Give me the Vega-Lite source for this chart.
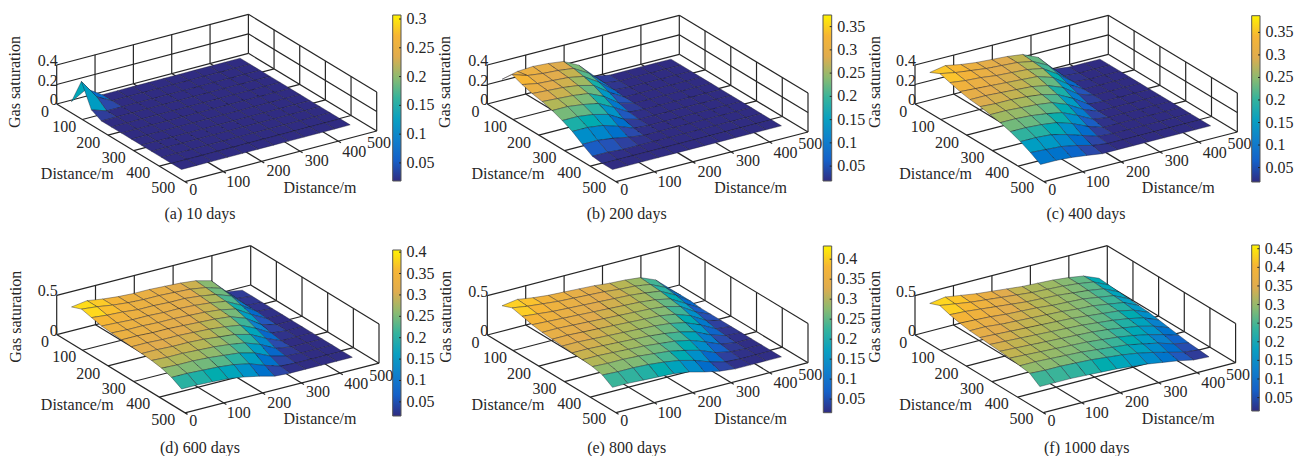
{"$schema":"https://vega.github.io/schema/vega-lite/v6.json","width":1300,"height":456,"padding":0,"autosize":{"type":"fit","contains":"padding"},"background":"white","config":{"view":{"stroke":null},"text":{"font":"Liberation Serif","fontSize":16,"color":"#262626"}},
"params":[{"name":"P","value":[
{"ox":56.7,"oy":104,"xx":0.3834,"xy":-0.1014,"yx":0.2566,"yy":0.1554,"h":39,"zm":0.4,"cmin":0.0186,"cmax":0.307,"b1":392.7,"b2":401,"t1":15,"t2":181,"tx":15,"ty":82,"cx":200,"cy":214.3},
{"ox":487.3,"oy":104,"xx":0.3840,"xy":-0.0994,"yx":0.2574,"yy":0.1554,"h":39,"zm":0.4,"cmin":0.018,"cmax":0.375,"b1":823,"b2":831.7,"t1":15,"t2":181,"tx":445,"ty":82,"cx":626.7,"cy":214.3},
{"ox":915,"oy":104,"xx":0.3866,"xy":-0.0994,"yx":0.2580,"yy":0.1554,"h":39,"zm":0.4,"cmin":0.018,"cmax":0.387,"b1":1251.7,"b2":1260,"t1":15.7,"t2":182,"tx":875,"ty":82,"cx":1086,"cy":214.3},
{"ox":56.7,"oy":334.6,"xx":0.3880,"xy":-0.0992,"yx":0.2566,"yy":0.1564,"h":39.3,"zm":0.5,"cmin":0.017,"cmax":0.405,"b1":392.7,"b2":401,"t1":250,"t2":416,"tx":15.7,"ty":316.7,"cx":200,"cy":448.3},
{"ox":487.3,"oy":335,"xx":0.3840,"xy":-0.1000,"yx":0.2574,"yy":0.1554,"h":39.3,"zm":0.5,"cmin":0.016,"cmax":0.433,"b1":823.3,"b2":831.7,"t1":246,"t2":412.7,"tx":445.7,"ty":316.7,"cx":626.7,"cy":448.3},
{"ox":915,"oy":335,"xx":0.3846,"xy":-0.1000,"yx":0.2566,"yy":0.1554,"h":39.3,"zm":0.5,"cmin":0.014,"cmax":0.46,"b1":1251.7,"b2":1259.3,"t1":245,"t2":411,"tx":875,"ty":316.7,"cx":1086.7,"cy":448.3}]}],
"datasets":{
"axes":[{"a":0,"b":0,"c":0,"d":500,"e":0,"f":0},{"a":500,"b":0,"c":0,"d":500,"e":500,"f":0},{"a":0,"b":0,"c":0,"d":0,"e":510,"f":0},{"a":0,"b":500,"c":0,"d":500,"e":500,"f":0},
{"a":100,"b":0,"c":0,"d":100,"e":510,"f":0},{"a":200,"b":0,"c":0,"d":200,"e":510,"f":0},{"a":300,"b":0,"c":0,"d":300,"e":510,"f":0},{"a":400,"b":0,"c":0,"d":400,"e":510,"f":0},
{"a":0,"b":100,"c":0,"d":500,"e":100,"f":0},{"a":0,"b":200,"c":0,"d":500,"e":200,"f":0},{"a":0,"b":300,"c":0,"d":500,"e":300,"f":0},{"a":0,"b":400,"c":0,"d":500,"e":400,"f":0},
{"a":0,"b":0,"c":0,"d":0,"e":0,"f":1},{"a":100,"b":0,"c":0,"d":100,"e":0,"f":1},{"a":200,"b":0,"c":0,"d":200,"e":0,"f":1},{"a":300,"b":0,"c":0,"d":300,"e":0,"f":1},{"a":400,"b":0,"c":0,"d":400,"e":0,"f":1},{"a":500,"b":0,"c":0,"d":500,"e":0,"f":1},
{"a":500,"b":100,"c":0,"d":500,"e":100,"f":1},{"a":500,"b":200,"c":0,"d":500,"e":200,"f":1},{"a":500,"b":300,"c":0,"d":500,"e":300,"f":1},{"a":500,"b":400,"c":0,"d":500,"e":400,"f":1},{"a":500,"b":500,"c":0,"d":500,"e":500,"f":1},
{"a":0,"b":0,"c":1,"d":500,"e":0,"f":1},{"a":500,"b":0,"c":1,"d":500,"e":500,"f":1},
{"a":0,"b":0,"c":0.5,"d":500,"e":0,"f":0.5,"m":1},{"a":500,"b":0,"c":0.5,"d":500,"e":500,"f":0.5,"m":1}],
"ticks":[{"a":"x","v":0},{"a":"x","v":100},{"a":"x","v":200},{"a":"x","v":300},{"a":"x","v":400},{"a":"x","v":500},{"a":"y","v":0},{"a":"y","v":100},{"a":"y","v":200},{"a":"y","v":300},{"a":"y","v":400},{"a":"y","v":500}],
"zt":[{"p":0,"t":"0.4","f":1},{"p":0,"t":"0.2","f":0.5},{"p":0,"t":"0","f":0},{"p":1,"t":"0.4","f":1},{"p":1,"t":"0.2","f":0.5},{"p":1,"t":"0","f":0},{"p":2,"t":"0.4","f":1},{"p":2,"t":"0.2","f":0.5},{"p":2,"t":"0","f":0},{"p":3,"t":"0.5","f":1},{"p":3,"t":"0","f":0},{"p":4,"t":"0.5","f":1},{"p":4,"t":"0","f":0},{"p":5,"t":"0.5","f":1},{"p":5,"t":"0","f":0}],
"bars":[{"p":0},{"p":1},{"p":2},{"p":3},{"p":4},{"p":5}],
"caps":[{"p":0,"t":"(a) 10 days"},{"p":1,"t":"(b) 200 days"},{"p":2,"t":"(c) 400 days"},{"p":3,"t":"(d) 600 days"},{"p":4,"t":"(e) 800 days"},{"p":5,"t":"(f) 1000 days"}],
"cb":[{"p":0,"v":0.05,"t":"0.05"},{"p":0,"v":0.1,"t":"0.1"},{"p":0,"v":0.15,"t":"0.15"},{"p":0,"v":0.2,"t":"0.2"},{"p":0,"v":0.25,"t":"0.25"},{"p":0,"v":0.3,"t":"0.3"},
{"p":1,"v":0.05,"t":"0.05"},{"p":1,"v":0.1,"t":"0.1"},{"p":1,"v":0.15,"t":"0.15"},{"p":1,"v":0.2,"t":"0.2"},{"p":1,"v":0.25,"t":"0.25"},{"p":1,"v":0.3,"t":"0.3"},{"p":1,"v":0.35,"t":"0.35"},
{"p":2,"v":0.05,"t":"0.05"},{"p":2,"v":0.1,"t":"0.1"},{"p":2,"v":0.15,"t":"0.15"},{"p":2,"v":0.2,"t":"0.2"},{"p":2,"v":0.25,"t":"0.25"},{"p":2,"v":0.3,"t":"0.3"},{"p":2,"v":0.35,"t":"0.35"},
{"p":3,"v":0.05,"t":"0.05"},{"p":3,"v":0.1,"t":"0.1"},{"p":3,"v":0.15,"t":"0.15"},{"p":3,"v":0.2,"t":"0.2"},{"p":3,"v":0.25,"t":"0.25"},{"p":3,"v":0.3,"t":"0.3"},{"p":3,"v":0.35,"t":"0.35"},{"p":3,"v":0.4,"t":"0.4"},
{"p":4,"v":0.05,"t":"0.05"},{"p":4,"v":0.1,"t":"0.1"},{"p":4,"v":0.15,"t":"0.15"},{"p":4,"v":0.2,"t":"0.2"},{"p":4,"v":0.25,"t":"0.25"},{"p":4,"v":0.3,"t":"0.3"},{"p":4,"v":0.35,"t":"0.35"},{"p":4,"v":0.4,"t":"0.4"},
{"p":5,"v":0.05,"t":"0.05"},{"p":5,"v":0.1,"t":"0.1"},{"p":5,"v":0.15,"t":"0.15"},{"p":5,"v":0.2,"t":"0.2"},{"p":5,"v":0.25,"t":"0.25"},{"p":5,"v":0.3,"t":"0.3"},{"p":5,"v":0.35,"t":"0.35"},{"p":5,"v":0.4,"t":"0.4"},{"p":5,"v":0.45,"t":"0.45"}],
"mesh":[
{"p":0,"x":25,"y":20,"z":0.03},{"p":0,"x":65,"y":20,"z":0.12},{"p":0,"x":25,"y":59,"z":0.3},{"p":0,"x":65,"y":59,"z":0.1},{"p":0,"x":25,"y":98,"z":0.07},
{"p":1,"x":25,"y":20,"z":0.26},{"p":1,"x":65,"y":20,"z":0.3},{"p":1,"x":105,"y":20,"z":0.31},{"p":1,"x":145,"y":20,"z":0.3},{"p":1,"x":185,"y":20,"z":0.28},{"p":1,"x":225,"y":20,"z":0.2},{"p":1,"x":265,"y":20,"z":0.05},
{"p":1,"x":25,"y":59,"z":0.37},{"p":1,"x":65,"y":59,"z":0.32},{"p":1,"x":105,"y":59,"z":0.3},{"p":1,"x":145,"y":59,"z":0.29},{"p":1,"x":185,"y":59,"z":0.27},{"p":1,"x":225,"y":59,"z":0.18},{"p":1,"x":265,"y":59,"z":0.04},
{"p":1,"x":25,"y":98,"z":0.33},{"p":1,"x":65,"y":98,"z":0.3},{"p":1,"x":105,"y":98,"z":0.29},{"p":1,"x":145,"y":98,"z":0.28},{"p":1,"x":185,"y":98,"z":0.25},{"p":1,"x":225,"y":98,"z":0.15},{"p":1,"x":265,"y":98,"z":0.03},
{"p":1,"x":25,"y":137,"z":0.3},{"p":1,"x":65,"y":137,"z":0.29},{"p":1,"x":105,"y":137,"z":0.28},{"p":1,"x":145,"y":137,"z":0.26},{"p":1,"x":185,"y":137,"z":0.22},{"p":1,"x":225,"y":137,"z":0.11},
{"p":1,"x":25,"y":176,"z":0.28},{"p":1,"x":65,"y":176,"z":0.27},{"p":1,"x":105,"y":176,"z":0.26},{"p":1,"x":145,"y":176,"z":0.24},{"p":1,"x":185,"y":176,"z":0.17},{"p":1,"x":225,"y":176,"z":0.06},
{"p":1,"x":25,"y":215,"z":0.25},{"p":1,"x":65,"y":215,"z":0.25},{"p":1,"x":105,"y":215,"z":0.23},{"p":1,"x":145,"y":215,"z":0.2},{"p":1,"x":185,"y":215,"z":0.12},{"p":1,"x":225,"y":215,"z":0.03},
{"p":1,"x":25,"y":254,"z":0.21},{"p":1,"x":65,"y":254,"z":0.21},{"p":1,"x":105,"y":254,"z":0.19},{"p":1,"x":145,"y":254,"z":0.15},{"p":1,"x":185,"y":254,"z":0.06},
{"p":1,"x":25,"y":293,"z":0.16},{"p":1,"x":65,"y":293,"z":0.16},{"p":1,"x":105,"y":293,"z":0.14},{"p":1,"x":145,"y":293,"z":0.09},{"p":1,"x":185,"y":293,"z":0.03},
{"p":1,"x":25,"y":332,"z":0.09},{"p":1,"x":65,"y":332,"z":0.09},{"p":1,"x":105,"y":332,"z":0.07},{"p":1,"x":145,"y":332,"z":0.04},
{"p":1,"x":25,"y":371,"z":0.03},{"p":1,"x":65,"y":371,"z":0.03},
{"p":2,"x":25,"y":20,"z":0.33},{"p":2,"x":65,"y":20,"z":0.36},{"p":2,"x":105,"y":20,"z":0.33},{"p":2,"x":145,"y":20,"z":0.31},{"p":2,"x":185,"y":20,"z":0.3},{"p":2,"x":225,"y":20,"z":0.29},{"p":2,"x":265,"y":20,"z":0.27},{"p":2,"x":305,"y":20,"z":0.2},{"p":2,"x":345,"y":20,"z":0.04},
{"p":2,"x":25,"y":59,"z":0.38},{"p":2,"x":65,"y":59,"z":0.35},{"p":2,"x":105,"y":59,"z":0.33},{"p":2,"x":145,"y":59,"z":0.31},{"p":2,"x":185,"y":59,"z":0.3},{"p":2,"x":225,"y":59,"z":0.29},{"p":2,"x":265,"y":59,"z":0.26},{"p":2,"x":305,"y":59,"z":0.18},{"p":2,"x":345,"y":59,"z":0.03},
{"p":2,"x":25,"y":98,"z":0.35},{"p":2,"x":65,"y":98,"z":0.33},{"p":2,"x":105,"y":98,"z":0.32},{"p":2,"x":145,"y":98,"z":0.3},{"p":2,"x":185,"y":98,"z":0.29},{"p":2,"x":225,"y":98,"z":0.28},{"p":2,"x":265,"y":98,"z":0.25},{"p":2,"x":305,"y":98,"z":0.15},{"p":2,"x":345,"y":98,"z":0.03},
{"p":2,"x":25,"y":137,"z":0.32},{"p":2,"x":65,"y":137,"z":0.31},{"p":2,"x":105,"y":137,"z":0.3},{"p":2,"x":145,"y":137,"z":0.29},{"p":2,"x":185,"y":137,"z":0.28},{"p":2,"x":225,"y":137,"z":0.27},{"p":2,"x":265,"y":137,"z":0.22},{"p":2,"x":305,"y":137,"z":0.11},
{"p":2,"x":25,"y":176,"z":0.3},{"p":2,"x":65,"y":176,"z":0.3},{"p":2,"x":105,"y":176,"z":0.29},{"p":2,"x":145,"y":176,"z":0.28},{"p":2,"x":185,"y":176,"z":0.27},{"p":2,"x":225,"y":176,"z":0.24},{"p":2,"x":265,"y":176,"z":0.18},{"p":2,"x":305,"y":176,"z":0.07},
{"p":2,"x":25,"y":215,"z":0.29},{"p":2,"x":65,"y":215,"z":0.28},{"p":2,"x":105,"y":215,"z":0.28},{"p":2,"x":145,"y":215,"z":0.27},{"p":2,"x":185,"y":215,"z":0.25},{"p":2,"x":225,"y":215,"z":0.21},{"p":2,"x":265,"y":215,"z":0.13},{"p":2,"x":305,"y":215,"z":0.03},
{"p":2,"x":25,"y":254,"z":0.27},{"p":2,"x":65,"y":254,"z":0.27},{"p":2,"x":105,"y":254,"z":0.26},{"p":2,"x":145,"y":254,"z":0.25},{"p":2,"x":185,"y":254,"z":0.23},{"p":2,"x":225,"y":254,"z":0.17},{"p":2,"x":265,"y":254,"z":0.08},
{"p":2,"x":25,"y":293,"z":0.25},{"p":2,"x":65,"y":293,"z":0.25},{"p":2,"x":105,"y":293,"z":0.24},{"p":2,"x":145,"y":293,"z":0.22},{"p":2,"x":185,"y":293,"z":0.19},{"p":2,"x":225,"y":293,"z":0.12},{"p":2,"x":265,"y":293,"z":0.04},
{"p":2,"x":25,"y":332,"z":0.22},{"p":2,"x":65,"y":332,"z":0.22},{"p":2,"x":105,"y":332,"z":0.21},{"p":2,"x":145,"y":332,"z":0.19},{"p":2,"x":185,"y":332,"z":0.14},{"p":2,"x":225,"y":332,"z":0.07},
{"p":2,"x":25,"y":371,"z":0.18},{"p":2,"x":65,"y":371,"z":0.18},{"p":2,"x":105,"y":371,"z":0.17},{"p":2,"x":145,"y":371,"z":0.13},{"p":2,"x":185,"y":371,"z":0.08},{"p":2,"x":225,"y":371,"z":0.03},
{"p":2,"x":25,"y":410,"z":0.13},{"p":2,"x":65,"y":410,"z":0.12},{"p":2,"x":105,"y":410,"z":0.11},{"p":2,"x":145,"y":410,"z":0.08},{"p":2,"x":185,"y":410,"z":0.04},
{"p":2,"x":25,"y":449,"z":0.07},{"p":2,"x":65,"y":449,"z":0.07},{"p":2,"x":105,"y":449,"z":0.06},{"p":2,"x":145,"y":449,"z":0.04},
{"p":3,"x":25,"y":20,"z":0.36},{"p":3,"x":65,"y":20,"z":0.39},{"p":3,"x":105,"y":20,"z":0.36},{"p":3,"x":145,"y":20,"z":0.34},{"p":3,"x":185,"y":20,"z":0.33},{"p":3,"x":225,"y":20,"z":0.33},{"p":3,"x":265,"y":20,"z":0.32},{"p":3,"x":305,"y":20,"z":0.31},{"p":3,"x":345,"y":20,"z":0.29},{"p":3,"x":385,"y":20,"z":0.24},{"p":3,"x":425,"y":20,"z":0.05},
{"p":3,"x":25,"y":59,"z":0.41},{"p":3,"x":65,"y":59,"z":0.39},{"p":3,"x":105,"y":59,"z":0.36},{"p":3,"x":145,"y":59,"z":0.34},{"p":3,"x":185,"y":59,"z":0.33},{"p":3,"x":225,"y":59,"z":0.33},{"p":3,"x":265,"y":59,"z":0.32},{"p":3,"x":305,"y":59,"z":0.31},{"p":3,"x":345,"y":59,"z":0.28},{"p":3,"x":385,"y":59,"z":0.22},{"p":3,"x":425,"y":59,"z":0.04},
{"p":3,"x":25,"y":98,"z":0.38},{"p":3,"x":65,"y":98,"z":0.36},{"p":3,"x":105,"y":98,"z":0.35},{"p":3,"x":145,"y":98,"z":0.33},{"p":3,"x":185,"y":98,"z":0.33},{"p":3,"x":225,"y":98,"z":0.32},{"p":3,"x":265,"y":98,"z":0.32},{"p":3,"x":305,"y":98,"z":0.3},{"p":3,"x":345,"y":98,"z":0.27},{"p":3,"x":385,"y":98,"z":0.2},{"p":3,"x":425,"y":98,"z":0.03},
{"p":3,"x":25,"y":137,"z":0.35},{"p":3,"x":65,"y":137,"z":0.34},{"p":3,"x":105,"y":137,"z":0.33},{"p":3,"x":145,"y":137,"z":0.33},{"p":3,"x":185,"y":137,"z":0.32},{"p":3,"x":225,"y":137,"z":0.32},{"p":3,"x":265,"y":137,"z":0.31},{"p":3,"x":305,"y":137,"z":0.29},{"p":3,"x":345,"y":137,"z":0.26},{"p":3,"x":385,"y":137,"z":0.16},{"p":3,"x":425,"y":137,"z":0.03},
{"p":3,"x":25,"y":176,"z":0.34},{"p":3,"x":65,"y":176,"z":0.33},{"p":3,"x":105,"y":176,"z":0.33},{"p":3,"x":145,"y":176,"z":0.32},{"p":3,"x":185,"y":176,"z":0.32},{"p":3,"x":225,"y":176,"z":0.31},{"p":3,"x":265,"y":176,"z":0.3},{"p":3,"x":305,"y":176,"z":0.28},{"p":3,"x":345,"y":176,"z":0.24},{"p":3,"x":385,"y":176,"z":0.12},
{"p":3,"x":25,"y":215,"z":0.33},{"p":3,"x":65,"y":215,"z":0.33},{"p":3,"x":105,"y":215,"z":0.32},{"p":3,"x":145,"y":215,"z":0.32},{"p":3,"x":185,"y":215,"z":0.31},{"p":3,"x":225,"y":215,"z":0.3},{"p":3,"x":265,"y":215,"z":0.29},{"p":3,"x":305,"y":215,"z":0.27},{"p":3,"x":345,"y":215,"z":0.2},{"p":3,"x":385,"y":215,"z":0.07},
{"p":3,"x":25,"y":254,"z":0.32},{"p":3,"x":65,"y":254,"z":0.32},{"p":3,"x":105,"y":254,"z":0.31},{"p":3,"x":145,"y":254,"z":0.31},{"p":3,"x":185,"y":254,"z":0.3},{"p":3,"x":225,"y":254,"z":0.29},{"p":3,"x":265,"y":254,"z":0.27},{"p":3,"x":305,"y":254,"z":0.24},{"p":3,"x":345,"y":254,"z":0.15},{"p":3,"x":385,"y":254,"z":0.04},
{"p":3,"x":25,"y":293,"z":0.31},{"p":3,"x":65,"y":293,"z":0.31},{"p":3,"x":105,"y":293,"z":0.3},{"p":3,"x":145,"y":293,"z":0.3},{"p":3,"x":185,"y":293,"z":0.29},{"p":3,"x":225,"y":293,"z":0.27},{"p":3,"x":265,"y":293,"z":0.25},{"p":3,"x":305,"y":293,"z":0.2},{"p":3,"x":345,"y":293,"z":0.1},
{"p":3,"x":25,"y":332,"z":0.3},{"p":3,"x":65,"y":332,"z":0.29},{"p":3,"x":105,"y":332,"z":0.29},{"p":3,"x":145,"y":332,"z":0.28},{"p":3,"x":185,"y":332,"z":0.27},{"p":3,"x":225,"y":332,"z":0.25},{"p":3,"x":265,"y":332,"z":0.22},{"p":3,"x":305,"y":332,"z":0.15},{"p":3,"x":345,"y":332,"z":0.05},
{"p":3,"x":25,"y":371,"z":0.28},{"p":3,"x":65,"y":371,"z":0.27},{"p":3,"x":105,"y":371,"z":0.27},{"p":3,"x":145,"y":371,"z":0.26},{"p":3,"x":185,"y":371,"z":0.24},{"p":3,"x":225,"y":371,"z":0.22},{"p":3,"x":265,"y":371,"z":0.17},{"p":3,"x":305,"y":371,"z":0.08},{"p":3,"x":345,"y":371,"z":0.03},
{"p":3,"x":25,"y":410,"z":0.24},{"p":3,"x":65,"y":410,"z":0.24},{"p":3,"x":105,"y":410,"z":0.23},{"p":3,"x":145,"y":410,"z":0.22},{"p":3,"x":185,"y":410,"z":0.2},{"p":3,"x":225,"y":410,"z":0.16},{"p":3,"x":265,"y":410,"z":0.09},{"p":3,"x":305,"y":410,"z":0.03},
{"p":3,"x":25,"y":449,"z":0.17},{"p":3,"x":65,"y":449,"z":0.17},{"p":3,"x":105,"y":449,"z":0.16},{"p":3,"x":145,"y":449,"z":0.15},{"p":3,"x":185,"y":449,"z":0.12},{"p":3,"x":225,"y":449,"z":0.08},{"p":3,"x":265,"y":449,"z":0.03},
{"p":4,"x":25,"y":20,"z":0.38},{"p":4,"x":65,"y":20,"z":0.41},{"p":4,"x":105,"y":20,"z":0.38},{"p":4,"x":145,"y":20,"z":0.36},{"p":4,"x":185,"y":20,"z":0.35},{"p":4,"x":225,"y":20,"z":0.34},{"p":4,"x":265,"y":20,"z":0.33},{"p":4,"x":305,"y":20,"z":0.31},{"p":4,"x":345,"y":20,"z":0.3},{"p":4,"x":385,"y":20,"z":0.28},{"p":4,"x":425,"y":20,"z":0.2},{"p":4,"x":465,"y":20,"z":0.03},
{"p":4,"x":25,"y":59,"z":0.43},{"p":4,"x":65,"y":59,"z":0.4},{"p":4,"x":105,"y":59,"z":0.38},{"p":4,"x":145,"y":59,"z":0.36},{"p":4,"x":185,"y":59,"z":0.35},{"p":4,"x":225,"y":59,"z":0.34},{"p":4,"x":265,"y":59,"z":0.33},{"p":4,"x":305,"y":59,"z":0.31},{"p":4,"x":345,"y":59,"z":0.3},{"p":4,"x":385,"y":59,"z":0.27},{"p":4,"x":425,"y":59,"z":0.18},{"p":4,"x":465,"y":59,"z":0.03},
{"p":4,"x":25,"y":98,"z":0.4},{"p":4,"x":65,"y":98,"z":0.38},{"p":4,"x":105,"y":98,"z":0.36},{"p":4,"x":145,"y":98,"z":0.35},{"p":4,"x":185,"y":98,"z":0.34},{"p":4,"x":225,"y":98,"z":0.33},{"p":4,"x":265,"y":98,"z":0.32},{"p":4,"x":305,"y":98,"z":0.31},{"p":4,"x":345,"y":98,"z":0.29},{"p":4,"x":385,"y":98,"z":0.26},{"p":4,"x":425,"y":98,"z":0.16},{"p":4,"x":465,"y":98,"z":0.03},
{"p":4,"x":25,"y":137,"z":0.37},{"p":4,"x":65,"y":137,"z":0.36},{"p":4,"x":105,"y":137,"z":0.35},{"p":4,"x":145,"y":137,"z":0.34},{"p":4,"x":185,"y":137,"z":0.33},{"p":4,"x":225,"y":137,"z":0.32},{"p":4,"x":265,"y":137,"z":0.31},{"p":4,"x":305,"y":137,"z":0.3},{"p":4,"x":345,"y":137,"z":0.28},{"p":4,"x":385,"y":137,"z":0.24},{"p":4,"x":425,"y":137,"z":0.13},
{"p":4,"x":25,"y":176,"z":0.35},{"p":4,"x":65,"y":176,"z":0.35},{"p":4,"x":105,"y":176,"z":0.34},{"p":4,"x":145,"y":176,"z":0.33},{"p":4,"x":185,"y":176,"z":0.32},{"p":4,"x":225,"y":176,"z":0.31},{"p":4,"x":265,"y":176,"z":0.3},{"p":4,"x":305,"y":176,"z":0.29},{"p":4,"x":345,"y":176,"z":0.27},{"p":4,"x":385,"y":176,"z":0.22},{"p":4,"x":425,"y":176,"z":0.1},
{"p":4,"x":25,"y":215,"z":0.34},{"p":4,"x":65,"y":215,"z":0.34},{"p":4,"x":105,"y":215,"z":0.33},{"p":4,"x":145,"y":215,"z":0.32},{"p":4,"x":185,"y":215,"z":0.31},{"p":4,"x":225,"y":215,"z":0.3},{"p":4,"x":265,"y":215,"z":0.29},{"p":4,"x":305,"y":215,"z":0.28},{"p":4,"x":345,"y":215,"z":0.25},{"p":4,"x":385,"y":215,"z":0.18},{"p":4,"x":425,"y":215,"z":0.07},
{"p":4,"x":25,"y":254,"z":0.33},{"p":4,"x":65,"y":254,"z":0.33},{"p":4,"x":105,"y":254,"z":0.32},{"p":4,"x":145,"y":254,"z":0.31},{"p":4,"x":185,"y":254,"z":0.3},{"p":4,"x":225,"y":254,"z":0.29},{"p":4,"x":265,"y":254,"z":0.28},{"p":4,"x":305,"y":254,"z":0.26},{"p":4,"x":345,"y":254,"z":0.22},{"p":4,"x":385,"y":254,"z":0.14},{"p":4,"x":425,"y":254,"z":0.04},
{"p":4,"x":25,"y":293,"z":0.32},{"p":4,"x":65,"y":293,"z":0.32},{"p":4,"x":105,"y":293,"z":0.31},{"p":4,"x":145,"y":293,"z":0.3},{"p":4,"x":185,"y":293,"z":0.29},{"p":4,"x":225,"y":293,"z":0.28},{"p":4,"x":265,"y":293,"z":0.26},{"p":4,"x":305,"y":293,"z":0.23},{"p":4,"x":345,"y":293,"z":0.18},{"p":4,"x":385,"y":293,"z":0.09},{"p":4,"x":425,"y":293,"z":0.03},
{"p":4,"x":25,"y":332,"z":0.31},{"p":4,"x":65,"y":332,"z":0.31},{"p":4,"x":105,"y":332,"z":0.3},{"p":4,"x":145,"y":332,"z":0.29},{"p":4,"x":185,"y":332,"z":0.28},{"p":4,"x":225,"y":332,"z":0.26},{"p":4,"x":265,"y":332,"z":0.24},{"p":4,"x":305,"y":332,"z":0.2},{"p":4,"x":345,"y":332,"z":0.13},{"p":4,"x":385,"y":332,"z":0.05},
{"p":4,"x":25,"y":371,"z":0.3},{"p":4,"x":65,"y":371,"z":0.29},{"p":4,"x":105,"y":371,"z":0.29},{"p":4,"x":145,"y":371,"z":0.28},{"p":4,"x":185,"y":371,"z":0.26},{"p":4,"x":225,"y":371,"z":0.24},{"p":4,"x":265,"y":371,"z":0.2},{"p":4,"x":305,"y":371,"z":0.15},{"p":4,"x":345,"y":371,"z":0.07},{"p":4,"x":385,"y":371,"z":0.03},
{"p":4,"x":25,"y":410,"z":0.27},{"p":4,"x":65,"y":410,"z":0.26},{"p":4,"x":105,"y":410,"z":0.26},{"p":4,"x":145,"y":410,"z":0.25},{"p":4,"x":185,"y":410,"z":0.23},{"p":4,"x":225,"y":410,"z":0.2},{"p":4,"x":265,"y":410,"z":0.15},{"p":4,"x":305,"y":410,"z":0.08},{"p":4,"x":345,"y":410,"z":0.03},
{"p":4,"x":25,"y":449,"z":0.19},{"p":4,"x":65,"y":449,"z":0.19},{"p":4,"x":105,"y":449,"z":0.18},{"p":4,"x":145,"y":449,"z":0.17},{"p":4,"x":185,"y":449,"z":0.16},{"p":4,"x":225,"y":449,"z":0.13},{"p":4,"x":265,"y":449,"z":0.08},{"p":4,"x":305,"y":449,"z":0.04},
{"p":5,"x":25,"y":20,"z":0.41},{"p":5,"x":65,"y":20,"z":0.44},{"p":5,"x":105,"y":20,"z":0.41},{"p":5,"x":145,"y":20,"z":0.38},{"p":5,"x":185,"y":20,"z":0.36},{"p":5,"x":225,"y":20,"z":0.34},{"p":5,"x":265,"y":20,"z":0.32},{"p":5,"x":305,"y":20,"z":0.31},{"p":5,"x":345,"y":20,"z":0.3},{"p":5,"x":385,"y":20,"z":0.28},{"p":5,"x":425,"y":20,"z":0.25},{"p":5,"x":465,"y":20,"z":0.17},
{"p":5,"x":25,"y":59,"z":0.46},{"p":5,"x":65,"y":59,"z":0.43},{"p":5,"x":105,"y":59,"z":0.4},{"p":5,"x":145,"y":59,"z":0.38},{"p":5,"x":185,"y":59,"z":0.36},{"p":5,"x":225,"y":59,"z":0.34},{"p":5,"x":265,"y":59,"z":0.32},{"p":5,"x":305,"y":59,"z":0.31},{"p":5,"x":345,"y":59,"z":0.3},{"p":5,"x":385,"y":59,"z":0.28},{"p":5,"x":425,"y":59,"z":0.25},{"p":5,"x":465,"y":59,"z":0.16},
{"p":5,"x":25,"y":98,"z":0.42},{"p":5,"x":65,"y":98,"z":0.41},{"p":5,"x":105,"y":98,"z":0.39},{"p":5,"x":145,"y":98,"z":0.37},{"p":5,"x":185,"y":98,"z":0.35},{"p":5,"x":225,"y":98,"z":0.33},{"p":5,"x":265,"y":98,"z":0.32},{"p":5,"x":305,"y":98,"z":0.31},{"p":5,"x":345,"y":98,"z":0.29},{"p":5,"x":385,"y":98,"z":0.27},{"p":5,"x":425,"y":98,"z":0.24},{"p":5,"x":465,"y":98,"z":0.15},
{"p":5,"x":25,"y":137,"z":0.39},{"p":5,"x":65,"y":137,"z":0.38},{"p":5,"x":105,"y":137,"z":0.37},{"p":5,"x":145,"y":137,"z":0.35},{"p":5,"x":185,"y":137,"z":0.34},{"p":5,"x":225,"y":137,"z":0.33},{"p":5,"x":265,"y":137,"z":0.31},{"p":5,"x":305,"y":137,"z":0.3},{"p":5,"x":345,"y":137,"z":0.29},{"p":5,"x":385,"y":137,"z":0.26},{"p":5,"x":425,"y":137,"z":0.23},{"p":5,"x":465,"y":137,"z":0.14},
{"p":5,"x":25,"y":176,"z":0.37},{"p":5,"x":65,"y":176,"z":0.37},{"p":5,"x":105,"y":176,"z":0.35},{"p":5,"x":145,"y":176,"z":0.34},{"p":5,"x":185,"y":176,"z":0.33},{"p":5,"x":225,"y":176,"z":0.32},{"p":5,"x":265,"y":176,"z":0.31},{"p":5,"x":305,"y":176,"z":0.29},{"p":5,"x":345,"y":176,"z":0.28},{"p":5,"x":385,"y":176,"z":0.25},{"p":5,"x":425,"y":176,"z":0.22},{"p":5,"x":465,"y":176,"z":0.13},
{"p":5,"x":25,"y":215,"z":0.36},{"p":5,"x":65,"y":215,"z":0.35},{"p":5,"x":105,"y":215,"z":0.34},{"p":5,"x":145,"y":215,"z":0.33},{"p":5,"x":185,"y":215,"z":0.32},{"p":5,"x":225,"y":215,"z":0.31},{"p":5,"x":265,"y":215,"z":0.3},{"p":5,"x":305,"y":215,"z":0.28},{"p":5,"x":345,"y":215,"z":0.26},{"p":5,"x":385,"y":215,"z":0.24},{"p":5,"x":425,"y":215,"z":0.2},{"p":5,"x":465,"y":215,"z":0.12},
{"p":5,"x":25,"y":254,"z":0.35},{"p":5,"x":65,"y":254,"z":0.34},{"p":5,"x":105,"y":254,"z":0.33},{"p":5,"x":145,"y":254,"z":0.32},{"p":5,"x":185,"y":254,"z":0.31},{"p":5,"x":225,"y":254,"z":0.3},{"p":5,"x":265,"y":254,"z":0.29},{"p":5,"x":305,"y":254,"z":0.27},{"p":5,"x":345,"y":254,"z":0.25},{"p":5,"x":385,"y":254,"z":0.22},{"p":5,"x":425,"y":254,"z":0.18},{"p":5,"x":465,"y":254,"z":0.1},
{"p":5,"x":25,"y":293,"z":0.34},{"p":5,"x":65,"y":293,"z":0.33},{"p":5,"x":105,"y":293,"z":0.32},{"p":5,"x":145,"y":293,"z":0.31},{"p":5,"x":185,"y":293,"z":0.3},{"p":5,"x":225,"y":293,"z":0.29},{"p":5,"x":265,"y":293,"z":0.28},{"p":5,"x":305,"y":293,"z":0.26},{"p":5,"x":345,"y":293,"z":0.23},{"p":5,"x":385,"y":293,"z":0.2},{"p":5,"x":425,"y":293,"z":0.15},{"p":5,"x":465,"y":293,"z":0.08},
{"p":5,"x":25,"y":332,"z":0.33},{"p":5,"x":65,"y":332,"z":0.32},{"p":5,"x":105,"y":332,"z":0.31},{"p":5,"x":145,"y":332,"z":0.3},{"p":5,"x":185,"y":332,"z":0.29},{"p":5,"x":225,"y":332,"z":0.28},{"p":5,"x":265,"y":332,"z":0.26},{"p":5,"x":305,"y":332,"z":0.24},{"p":5,"x":345,"y":332,"z":0.21},{"p":5,"x":385,"y":332,"z":0.17},{"p":5,"x":425,"y":332,"z":0.12},{"p":5,"x":465,"y":332,"z":0.06},
{"p":5,"x":25,"y":371,"z":0.31},{"p":5,"x":65,"y":371,"z":0.31},{"p":5,"x":105,"y":371,"z":0.3},{"p":5,"x":145,"y":371,"z":0.29},{"p":5,"x":185,"y":371,"z":0.28},{"p":5,"x":225,"y":371,"z":0.26},{"p":5,"x":265,"y":371,"z":0.24},{"p":5,"x":305,"y":371,"z":0.22},{"p":5,"x":345,"y":371,"z":0.18},{"p":5,"x":385,"y":371,"z":0.14},{"p":5,"x":425,"y":371,"z":0.08},{"p":5,"x":465,"y":371,"z":0.04},
{"p":5,"x":25,"y":410,"z":0.29},{"p":5,"x":65,"y":410,"z":0.28},{"p":5,"x":105,"y":410,"z":0.28},{"p":5,"x":145,"y":410,"z":0.27},{"p":5,"x":185,"y":410,"z":0.26},{"p":5,"x":225,"y":410,"z":0.24},{"p":5,"x":265,"y":410,"z":0.22},{"p":5,"x":305,"y":410,"z":0.19},{"p":5,"x":345,"y":410,"z":0.15},{"p":5,"x":385,"y":410,"z":0.1},{"p":5,"x":425,"y":410,"z":0.05},{"p":5,"x":465,"y":410,"z":0.03},
{"p":5,"x":25,"y":449,"z":0.2},{"p":5,"x":65,"y":449,"z":0.2},{"p":5,"x":105,"y":449,"z":0.2},{"p":5,"x":145,"y":449,"z":0.19},{"p":5,"x":185,"y":449,"z":0.18},{"p":5,"x":225,"y":449,"z":0.17},{"p":5,"x":265,"y":449,"z":0.15},{"p":5,"x":305,"y":449,"z":0.13},{"p":5,"x":345,"y":449,"z":0.1},{"p":5,"x":385,"y":449,"z":0.07},{"p":5,"x":425,"y":449,"z":0.03}]},
"layer":[
{"data":{"name":"axes"},"transform":[{"calculate":"[0,1,2,3,4,5]","as":"ps"},{"flatten":["ps"],"as":["p"]},{"filter":"!datum.m||datum.p<3"},{"calculate":"P[datum.p]","as":"q"},
{"calculate":"datum.q.ox+datum.a*datum.q.xx+datum.b*datum.q.yx","as":"sx"},{"calculate":"datum.q.oy+datum.a*datum.q.xy+datum.b*datum.q.yy-datum.c*datum.q.h","as":"sy"},
{"calculate":"datum.q.ox+datum.d*datum.q.xx+datum.e*datum.q.yx","as":"sx2"},{"calculate":"datum.q.oy+datum.d*datum.q.xy+datum.e*datum.q.yy-datum.f*datum.q.h","as":"sy2"}],
"mark":{"type":"rule","color":"#262626","strokeWidth":1.2},
"encoding":{"x":{"field":"sx","type":"quantitative","scale":null},"y":{"field":"sy","type":"quantitative","scale":null},"x2":{"field":"sx2"},"y2":{"field":"sy2"}}},
{"data":{"name":"mesh"},"transform":[
{"impute":"z","key":"x","keyvals":[25,65,105,145,185,225,265,305,345,385,425,465],"groupby":["p","y"],"value":0.018},
{"impute":"z","key":"y","keyvals":[20,59,98,137,176,215,254,293,332,371,410,449],"groupby":["p","x"],"value":0.018},
{"window":[{"op":"lead","field":"z","as":"zy"}],"groupby":["p","x"],"sort":[{"field":"y","order":"ascending"}]},
{"window":[{"op":"lead","field":"z","as":"zx"},{"op":"lead","field":"zy","as":"zxy"}],"groupby":["p","y"],"sort":[{"field":"x","order":"ascending"}]},
{"filter":"isValid(datum.zxy)"},
{"calculate":"P[datum.p]","as":"q"},
{"calculate":"datum.q.ox+datum.x*datum.q.xx+datum.y*datum.q.yx","as":"sx"},
{"calculate":"datum.q.oy+datum.x*datum.q.xy+datum.y*datum.q.yy","as":"sy"},
{"calculate":"datum.q.h/datum.q.zm","as":"k"},
{"calculate":"{type:'Polygon',coordinates:[[[datum.sx,datum.sy-datum.z*datum.k],[datum.sx+40*datum.q.xx,datum.sy+40*datum.q.xy-datum.zx*datum.k],[datum.sx+40*datum.q.xx+39*datum.q.yx,datum.sy+40*datum.q.xy+39*datum.q.yy-datum.zxy*datum.k],[datum.sx+39*datum.q.yx,datum.sy+39*datum.q.yy-datum.zy*datum.k],[datum.sx,datum.sy-datum.z*datum.k]]]}","as":"geo"},
{"calculate":"clamp(((datum.z+datum.zx+datum.zy+datum.zxy)/4-datum.q.cmin)/(datum.q.cmax-datum.q.cmin),0,1)","as":"c"},
{"calculate":"datum.y-datum.x","as":"d"}],
"projection":{"type":"identity","scale":1,"translate":[0,0]},
"mark":{"type":"geoshape","stroke":"#1a1a2a","strokeWidth":0.6,"strokeOpacity":0.65},
"encoding":{"shape":{"field":"geo","type":"geojson"},"order":{"field":"d","type":"quantitative"},"color":{"field":"c","type":"quantitative","legend":null,"scale":{"domain":[0,0.125,0.25,0.375,0.5,0.625,0.75,0.875,1],"range":["#302c82","#1560c8","#0f80cc","#0aa0c0","#35b39c","#8cba70","#e0ac4e","#f6b535","#fff200"]}}}},
{"data":{"name":"bars"},"transform":[{"calculate":"P[datum.p]","as":"q"},{"calculate":"datum.q.b1","as":"x1"},{"calculate":"datum.q.b2","as":"x2"},{"calculate":"datum.q.t1","as":"y1"},{"calculate":"datum.q.t2","as":"y2"}],
"mark":{"type":"rect","stroke":"#555","strokeWidth":1,"fill":{"gradient":"linear","x1":0,"y1":1,"x2":0,"y2":0,"stops":[{"offset":0,"color":"#302c82"},{"offset":0.125,"color":"#1560c8"},{"offset":0.25,"color":"#0f80cc"},{"offset":0.375,"color":"#0aa0c0"},{"offset":0.5,"color":"#35b39c"},{"offset":0.625,"color":"#8cba70"},{"offset":0.75,"color":"#e0ac4e"},{"offset":0.875,"color":"#f6b535"},{"offset":1,"color":"#fff200"}]}},
"encoding":{"x":{"field":"x1","type":"quantitative","scale":null},"x2":{"field":"x2"},"y":{"field":"y1","type":"quantitative","scale":null},"y2":{"field":"y2"}}},
{"data":{"name":"cb"},"transform":[{"calculate":"P[datum.p]","as":"q"},{"calculate":"datum.q.t1+(datum.q.cmax-datum.v)/(datum.q.cmax-datum.q.cmin)*(datum.q.t2-datum.q.t1)","as":"sy"},{"calculate":"datum.q.b2-2","as":"sx"},{"calculate":"datum.q.b2","as":"sx2"}],
"mark":{"type":"rule","color":"#262626","strokeWidth":1},
"encoding":{"x":{"field":"sx","type":"quantitative","scale":null},"x2":{"field":"sx2"},"y":{"field":"sy","type":"quantitative","scale":null}}},
{"data":{"name":"cb"},"transform":[{"calculate":"P[datum.p]","as":"q"},{"calculate":"datum.q.t1+(datum.q.cmax-datum.v)/(datum.q.cmax-datum.q.cmin)*(datum.q.t2-datum.q.t1)","as":"sy"},{"calculate":"datum.q.b2+5.5","as":"sx"}],
"mark":{"type":"text","align":"left","baseline":"middle"},
"encoding":{"x":{"field":"sx","type":"quantitative","scale":null},"y":{"field":"sy","type":"quantitative","scale":null},"text":{"field":"t"}}},
{"data":{"name":"ticks"},"transform":[{"calculate":"[0,1,2,3,4,5]","as":"ps"},{"flatten":["ps"],"as":["p"]},{"calculate":"P[datum.p]","as":"q"},{"calculate":"datum.v/100","as":"i"},
{"calculate":"datum.q.ox+(datum.a=='x'?datum.v*datum.q.xx+500*datum.q.yx+[8.3,15,16.7,16.7,16,2.3][datum.i]:datum.v*datum.q.yx+[-11.7,-18,-19.7,-20,-21,-21.7][datum.i])","as":"sx"},
{"calculate":"datum.q.oy+(datum.a=='x'?datum.v*datum.q.xy+500*datum.q.yy+[8.3,10,9.7,9.3,10.7,12.3][datum.i]:datum.v*datum.q.yy+[7.7,7,8.3,7,7,6.7][datum.i])","as":"sy"}],
"mark":{"type":"text","align":"center","baseline":"middle"},
"encoding":{"x":{"field":"sx","type":"quantitative","scale":null},"y":{"field":"sy","type":"quantitative","scale":null},"text":{"field":"v","type":"nominal"}}},
{"data":{"name":"zt"},"transform":[{"calculate":"P[datum.p]","as":"q"},{"calculate":"datum.q.ox+1","as":"sx"},{"calculate":"datum.q.oy-datum.f*datum.q.h-4","as":"sy"}],
"mark":{"type":"text","align":"right","baseline":"middle"},
"encoding":{"x":{"field":"sx","type":"quantitative","scale":null},"y":{"field":"sy","type":"quantitative","scale":null},"text":{"field":"t"}}},
{"data":{"name":"caps"},"transform":[{"calculate":"P[datum.p]","as":"q"},{"calculate":"datum.q.cx","as":"sx"},{"calculate":"datum.q.cy","as":"sy"}],
"mark":{"type":"text","align":"center","baseline":"middle"},
"encoding":{"x":{"field":"sx","type":"quantitative","scale":null},"y":{"field":"sy","type":"quantitative","scale":null},"text":{"field":"t"}}},
{"data":{"name":"bars"},"transform":[{"calculate":"P[datum.p]","as":"q"},{"calculate":"datum.q.ox+20.6","as":"sx"},{"calculate":"datum.q.oy+70","as":"sy"},{"calculate":"'Distance/m'","as":"t"}],
"mark":{"type":"text","align":"center","baseline":"middle"},
"encoding":{"x":{"field":"sx","type":"quantitative","scale":null},"y":{"field":"sy","type":"quantitative","scale":null},"text":{"field":"t"}}},
{"data":{"name":"bars"},"transform":[{"calculate":"P[datum.p]","as":"q"},{"calculate":"datum.q.ox+263.3","as":"sx"},{"calculate":"datum.q.oy+84.3","as":"sy"},{"calculate":"'Distance/m'","as":"t"}],
"mark":{"type":"text","align":"center","baseline":"middle"},
"encoding":{"x":{"field":"sx","type":"quantitative","scale":null},"y":{"field":"sy","type":"quantitative","scale":null},"text":{"field":"t"}}},
{"data":{"name":"bars"},"transform":[{"calculate":"P[datum.p]","as":"q"},{"calculate":"datum.q.tx","as":"sx"},{"calculate":"datum.q.ty","as":"sy"},{"calculate":"'Gas saturation'","as":"t"}],
"mark":{"type":"text","align":"center","baseline":"middle","angle":270},
"encoding":{"x":{"field":"sx","type":"quantitative","scale":null},"y":{"field":"sy","type":"quantitative","scale":null},"text":{"field":"t"}}}
]}
